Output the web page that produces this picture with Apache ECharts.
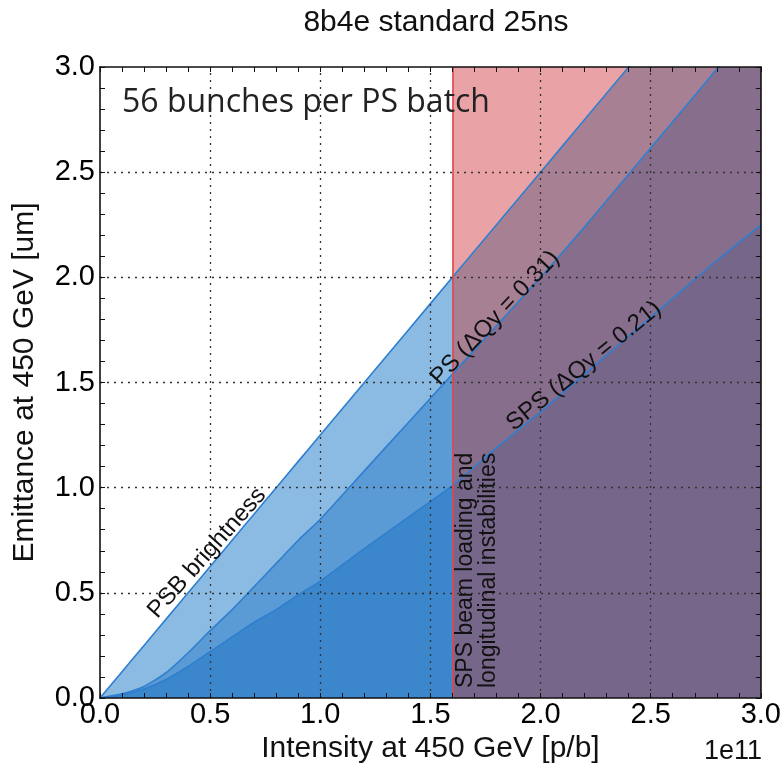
<!DOCTYPE html>
<html>
<head>
<meta charset="utf-8">
<script src="https://cdn.jsdelivr.net/npm/echarts@6/dist/echarts.min.js"></script>
<style>
  html, body { margin: 0; padding: 0; background: #fff; }
  #chart { width: 784px; height: 773px; }
</style>
</head>
<body>
<div id="chart"></div>
<script>
// Bunch intensity samples, in units of 1e11 protons per bunch
const intensity = [0, 0.1, 0.2, 0.3, 0.4, 0.5, 0.6, 0.7, 0.8, 0.9, 1.0, 1.2, 1.4, 1.6, 1.8, 2.0, 2.2, 2.4, 2.6, 2.8, 3.0];
// Emittance limits at 450 GeV [um]
const psbBrightness = [0, 0.125, 0.25, 0.375, 0.5, 0.625, 0.75, 0.875, 1.0, 1.125, 1.25, 1.5, 1.75, 2.0, 2.25, 2.5, 2.75, 3.0, 3.25, 3.5, 3.75];
const psLimit = [0, 0.02, 0.055, 0.12, 0.215, 0.32, 0.42, 0.53, 0.64, 0.75, 0.85, 1.08, 1.31, 1.54, 1.77, 2.0, 2.24, 2.49, 2.74, 2.99, 3.24];
const spsLimit = [0, 0.015, 0.043, 0.088, 0.15, 0.22, 0.29, 0.36, 0.42, 0.49, 0.556, 0.71, 0.86, 1.01, 1.19, 1.36, 1.54, 1.72, 1.90, 2.08, 2.25];
// Intensity limit from SPS beam loading and longitudinal instabilities
const beamLoadingLimit = 1.6;
const xTicks = [0, 0.5, 1.0, 1.5, 2.0, 2.5, 3.0];
const yTicks = [0, 0.5, 1.0, 1.5, 2.0, 2.5, 3.0];

const pairs = (ys) => intensity.map((x, i) => [x, ys[i]]);
const below = (ys) => pairs(ys).filter(p => p[0] <= beamLoadingLimit);
const above = (ys) => pairs(ys).filter(p => p[0] >= beamLoadingLimit);

const LINE = '#2f7fd0';
const FONT = '"Liberation Sans", Arial, sans-serif';
const SMOOTH = 0.2;

function band(data, color, extra) {
  return Object.assign({
    type: 'line', data, symbol: 'none', silent: true, smooth: SMOOTH,
    lineStyle: { width: 0 },
    areaStyle: { color, opacity: 1, origin: 'start' },
    z: 2
  }, extra || {});
}
function curve(data) {
  return {
    type: 'line', data, symbol: 'none', silent: true, smooth: SMOOTH,
    lineStyle: { color: LINE, width: 1.6 }, z: 4
  };
}

const baseAxis = {
  type: 'value', min: 0, max: 3, interval: 0.5,
  axisLine: { show: true, onZero: false, lineStyle: { color: '#111', width: 1.6 } },
  axisTick: { show: true, inside: true, length: 5, lineStyle: { color: '#111', width: 1 } },
  minorTick: { show: true, splitNumber: 5, length: 5, lineStyle: { color: '#111', width: 1 } },
  splitLine: { show: false },
  zlevel: 1, z: 10
};
const tickLabel = {
  fontFamily: FONT, fontSize: 29, color: '#000',
  formatter: v => Number(v).toFixed(1)
};

// dotted grid drawn over the filled regions, one line per major tick
const innerX = xTicks.filter(v => v > 0 && v < 3);
const innerY = yTicks.filter(v => v > 0 && v < 3);
const gridSeries = {
  type: 'line', data: [], silent: true, z: 3,
  markLine: {
    silent: true, symbol: 'none', label: { show: false },
    lineStyle: { color: '#333', type: [2, 5], width: 1.3 },
    data: innerX.map(v => ({ xAxis: v })).concat(innerY.map(v => ({ yAxis: v })))
  }
};

const option = {
  animation: false,
  title: {
    text: '8b4e standard 25ns', left: 431, top: 3, textAlign: 'center',
    textStyle: { fontFamily: FONT, fontSize: 30, fontWeight: 'normal', color: '#111' }
  },
  grid: { left: 100, top: 67, right: 23, bottom: 75 },
  xAxis: [
    Object.assign({}, baseAxis, {
      position: 'bottom',
      name: 'Intensity at 450 GeV [p/b]', nameLocation: 'middle', nameGap: 28,
      nameTextStyle: { fontFamily: FONT, fontSize: 30, color: '#111' },
      axisLabel: Object.assign({ margin: 2, customValues: xTicks }, tickLabel)
    }),
    Object.assign({}, baseAxis, { position: 'top', axisLabel: { show: false } })
  ],
  yAxis: [
    Object.assign({}, baseAxis, {
      position: 'left',
      name: 'Emittance at 450 GeV [um]', nameLocation: 'middle', nameGap: 60,
      nameTextStyle: { fontFamily: FONT, fontSize: 30, color: '#111' },
      axisLabel: Object.assign({ margin: 5, customValues: yTicks }, tickLabel)
    }),
    Object.assign({}, baseAxis, { position: 'right', axisLabel: { show: false } })
  ],
  series: [
    // bands below the beam-loading limit
    band(below(psbBrightness), '#8bbbe3'),
    band(below(psLimit), '#5a9ad5'),
    band(below(spsLimit), '#3c86cb'),
    // region excluded by SPS beam loading
    band(above(psbBrightness), '#a88094', {
      markArea: {
        silent: true,
        itemStyle: { color: '#e9a3a6' },
        data: [[{ xAxis: beamLoadingLimit, yAxis: 0 }, { xAxis: 3, yAxis: 3 }]]
      }
    }),
    band(above(psLimit), '#866e8c'),
    band(above(spsLimit), '#76678a'),
    gridSeries,
    // limit curves
    curve(pairs(psbBrightness)),
    curve(pairs(psLimit)),
    curve(pairs(spsLimit)),
    {
      type: 'line', data: [], silent: true, z: 5,
      markLine: {
        silent: true, symbol: 'none', label: { show: false },
        lineStyle: { color: '#e0464f', width: 1.6, type: 'solid' },
        data: [{ xAxis: beamLoadingLimit }]
      }
    }
  ],
  graphic: [
    { type: 'text', x: 122, y: 103, z: 10,
      style: { text: '56 bunches per PS batch', font: '32px "Open Sans", sans-serif', fill: '#222', textAlign: 'left', textVerticalAlign: 'middle' } },
    { type: 'text', x: 207, y: 553, rotation: 48.5 * Math.PI / 180, z: 10,
      style: { text: 'PSB brightness', font: '24px "Liberation Sans", Arial, sans-serif', fill: '#111', textAlign: 'center', textVerticalAlign: 'middle' } },
    { type: 'text', x: 495, y: 318, rotation: 46.5 * Math.PI / 180, z: 10,
      style: { text: 'PS (\u0394Qy = 0.31)', font: '24px "Liberation Sans", Arial, sans-serif', fill: '#111', textAlign: 'center', textVerticalAlign: 'middle' } },
    { type: 'text', x: 584, y: 366, rotation: 39 * Math.PI / 180, z: 10,
      style: { text: 'SPS (\u0394Qy = 0.21)', font: '24px "Liberation Sans", Arial, sans-serif', fill: '#111', textAlign: 'center', textVerticalAlign: 'middle' } },
    { type: 'text', x: 454, y: 688, rotation: Math.PI / 2, z: 10,
      style: { text: 'SPS beam loading and\nlongitudinal instabilities', font: '23px "Liberation Sans", Arial, sans-serif', lineHeight: 23, fill: '#111', textAlign: 'left', textVerticalAlign: 'top' } },
    { type: 'text', x: 762, y: 752, z: 10,
      style: { text: '1e11', font: '27px "Liberation Sans", Arial, sans-serif', fill: '#111', textAlign: 'right', textVerticalAlign: 'middle' } }
  ]
};

echarts.init(document.getElementById('chart'), null, { renderer: 'canvas' }).setOption(option);
</script>
</body>
</html>
